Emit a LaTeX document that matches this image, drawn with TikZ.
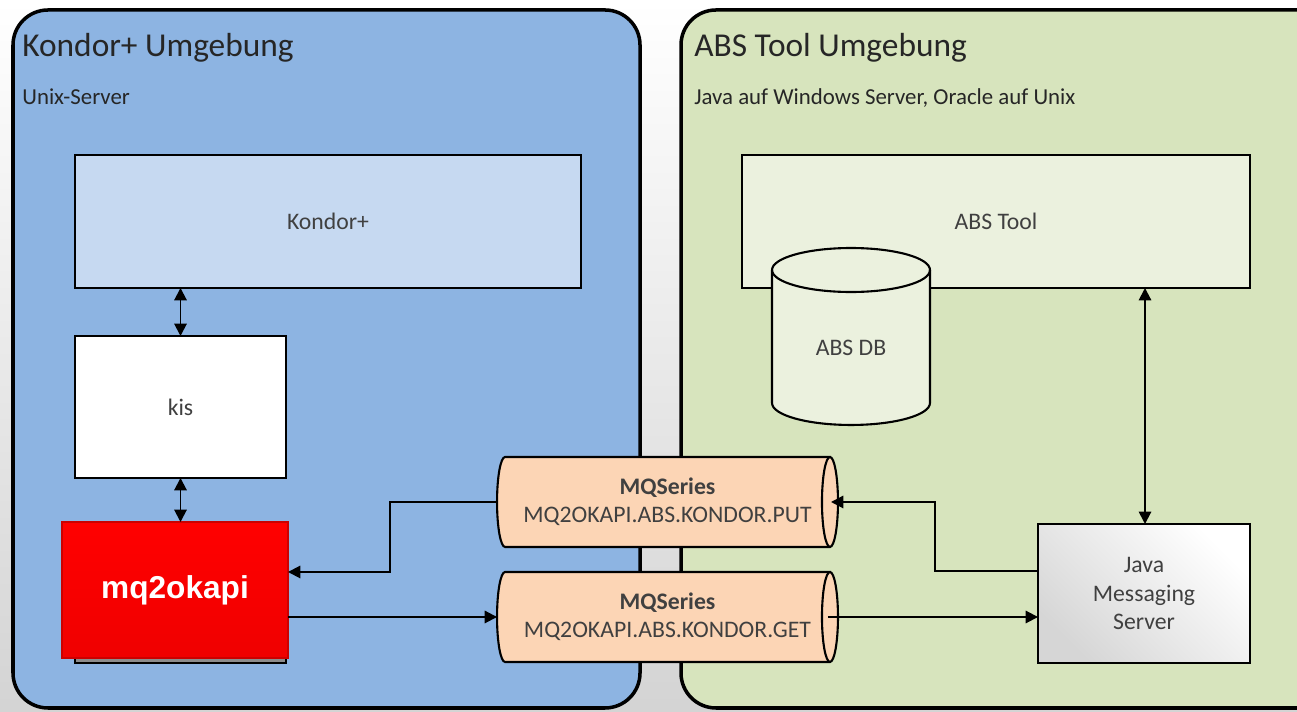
\documentclass[tikz,border=0pt]{standalone}
\usepackage{fontspec}
\setmainfont{Carlito}
\newfontfamily\arialbold{Liberation Sans}[UprightFont=* Bold]
\usetikzlibrary{arrows.meta,calc}
\definecolor{leftpanel}{HTML}{8DB4E2}
\definecolor{rightpanel}{HTML}{D7E4BD}
\definecolor{konfill}{HTML}{C6D9F1}
\definecolor{absfill}{HTML}{EBF1DE}
\definecolor{peach}{HTML}{FCD5B5}
\definecolor{txt}{HTML}{404040}
\definecolor{ttl}{HTML}{262626}
\tikzset{
  panel/.style={draw=black, line width=2pt, rounded corners=0.7cm},
  box/.style={draw=black, line width=1.3pt, inner sep=0pt, outer sep=0pt, font=\fontsize{13.5}{16}\selectfont, text=txt, align=center},
  ghost/.style={inner sep=0pt, outer sep=0pt, font=\fontsize{13.5}{16}\selectfont, text=txt, align=center},
  conn/.style={line width=1.1pt, -{Triangle[length=7pt,width=7pt]}},
  biconn/.style={line width=1.1pt, {Triangle[length=7pt,width=7pt]}-{Triangle[length=7pt,width=7pt]}},
  ttlstyle/.style={anchor=base west, inner sep=0pt, text=ttl, font=\fontsize{19}{22}\selectfont},
  substyle/.style={anchor=base west, inner sep=0pt, text=ttl, font=\fontsize{13}{16}\selectfont},
}
\begin{document}
\begin{tikzpicture}[x=0.02cm, y=0.02cm]
\useasboundingbox (0,0) rectangle (1297,712);
\clip (0,0) rectangle (1297,712);
% background
\shade[top color=white, bottom color=black!17] (0,0) rectangle (1297,712);
% panels
\draw[panel, fill=leftpanel] (13,4) rectangle (640,702);
\draw[panel, fill=rightpanel] (681,4) rectangle (1335,702);
\node[ttlstyle] (t1) at (22,655) {Kondor+ Umgebung};
\node[substyle] (s1) at (22,607) {Unix-Server};
\node[ttlstyle] (t2) at (694,655) {ABS Tool Umgebung};
\node[substyle] (s2) at (694,607) {Java auf Windows Server, Oracle auf Unix};
% left boxes
\node[box, fill=konfill, minimum width=10.12cm, minimum height=2.66cm] (kon) at (328,490.5) {Kondor+};
\node[box, fill=white, minimum width=4.22cm, minimum height=2.84cm] (kis) at (180.5,305) {kis};
\fill[black!45, draw=black, line width=1pt] (75,49) rectangle (286,70);
\node[inner sep=0pt, outer sep=0pt, minimum width=4.52cm, minimum height=2.72cm,
      top color=red!100, bottom color=red!94!black, draw=red!80!black, line width=0.6pt,
      text=white, font=\arialbold\fontsize{18}{20}\selectfont] (mq) at (175,122) {mq2okapi};
% right boxes
\node[box, fill=absfill, minimum width=10.16cm, minimum height=2.66cm] (abs) at (996,490.5) {ABS Tool};
% ABS DB cylinder
\node[ghost, minimum width=3.16cm, minimum height=3.54cm] (db) at (851,375.5) {};
\filldraw[fill=absfill, draw=black, line width=1.2pt]
  ($(db.north west)+(0,-22)$) -- ($(db.south west)+(0,22)$)
  arc[start angle=180, end angle=360, x radius=1.58cm, y radius=0.44cm]
  -- ($(db.north east)+(0,-22)$)
  arc[start angle=0, end angle=180, x radius=1.58cm, y radius=0.44cm] -- cycle;
\draw[black, line width=1.2pt] ($(db.north west)+(0,-22)$)
  arc[start angle=180, end angle=360, x radius=1.58cm, y radius=0.44cm];
\node[ghost] (dblabel) at (851,364) {ABS DB};
% Java Messaging Server
\node[box, shading=axis, top color=white, bottom color=black!16, shading angle=-45,
      minimum width=4.24cm, minimum height=2.78cm] (jms) at (1144,118.5) {Java\\Messaging\\Server};
% MQ cylinders
\foreach \n/\y/\q in {put/210/PUT, get/95/GET}{
  \node[ghost, minimum width=6.82cm, minimum height=1.8cm] (\n) at (667.5,\y) {};
  \filldraw[fill=peach, draw=black, line width=1.2pt]
    ([xshift=-0.16cm]\n.north east) -- ([xshift=0.16cm]\n.north west)
    arc[start angle=90, end angle=270, x radius=0.16cm, y radius=0.9cm]
    -- ([xshift=-0.16cm]\n.south east)
    arc[start angle=-90, end angle=90, x radius=0.16cm, y radius=0.9cm] -- cycle;
  \draw[black, line width=1.2pt] ([xshift=-0.16cm]\n.north east)
    arc[start angle=90, end angle=270, x radius=0.16cm, y radius=0.9cm];
  \node[ghost] (\n label) at (\n.center) {\textbf{MQSeries}\\MQ2OKAPI.ABS.KONDOR.\q};
}
% connectors
\draw[biconn] (kon.south -| kis.north) -- (kis.north);
\draw[biconn] (kis.south) -- (mq.north -| kis.south);
\draw[conn] (put.west) -- (390,210) -- (390,140) -- (mq.east |- 0,140);
\draw[conn] (mq.east |- get.west) -- (get.west);
\draw[conn] (jms.west |- 0,141) -- (935,141) -- (935,210) -- ([xshift=-0.14cm]put.east);
\draw[conn] ([xshift=-0.2cm]get.east) -- (jms.west |- get.east);
\draw[biconn] (abs.south -| 1145,0) -- (jms.north -| 1145,0);
\end{tikzpicture}
\end{document}
